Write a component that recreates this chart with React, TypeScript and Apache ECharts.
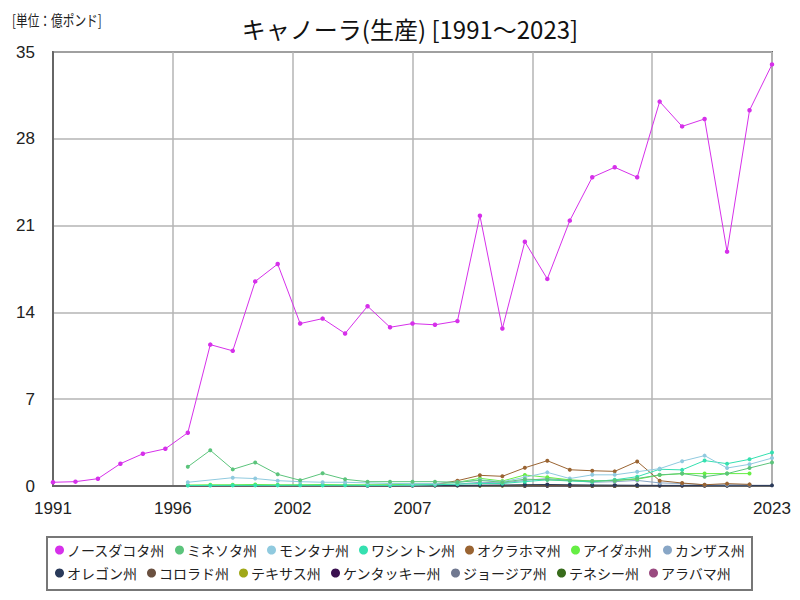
import React, { useEffect, useRef } from "react";
import * as echarts from "echarts";

const BASE_YEAR = 1991;
const LAST_YEAR = 2023;
const yTicks = [0, 7, 14, 21, 28, 35];

const stateNames = [
  "ノースダコタ州", "ミネソタ州", "モンタナ州", "ワシントン州", "オクラホマ州", "アイダホ州", "カンザス州",
  "オレゴン州", "コロラド州", "テキサス州", "ケンタッキー州", "ジョージア州", "テネシー州", "アラバマ州",
];
const stateColors = [
  "#d630ea", "#5cc47c", "#90cadf", "#35e0b0", "#9a6432", "#66ee44", "#88a6c6",
  "#2a3a5a", "#6a5040", "#a0a818", "#3a1050", "#707890", "#386c1c", "#9a4a80",
];

// start year of each series
const startYears = [1991, 1997, 1997, 1997, 2008, 1997, 2005, 2005, 2005, 2010, 2012, 2012, 2012, 2012];

const northDakota = [0.3, 0.35, 0.59, 1.8, 2.6, 3.0, 4.3, 11.4, 10.9, 16.5, 17.9, 13.1, 13.5, 12.3, 14.5, 12.8, 13.1, 13.0, 13.3, 21.8, 12.7, 19.7, 16.7, 21.4, 24.9, 25.7, 24.9, 31.0, 29.0, 29.6, 18.9, 30.3, 34.0];
const minnesota = [1.55, 2.88, 1.34, 1.9, 0.94, 0.46, 1.02, 0.54, 0.35, 0.35, 0.35, 0.35, 0.3, 0.45, 0.3, 0.55, 0.5, 0.45, 0.4, 0.45, 0.6, 0.9, 1.0, 0.75, 1.0, 1.45, 1.9];
const montana = [0.3, null, 0.67, 0.6, 0.43, 0.35, 0.3, 0.3, 0.25, 0.2, 0.2, 0.2, 0.3, 0.5, 0.35, 0.7, 1.1, 0.6, 0.9, 0.9, 1.15, 1.4, 2.0, 2.45, 1.45, 1.75, 2.25];
const washington = [0.04, 0.04, 0.05, 0.05, 0.05, 0.06, 0.05, 0.06, 0.05, 0.05, 0.08, 0.1, 0.15, 0.2, 0.2, 0.35, 0.5, 0.4, 0.35, 0.5, 0.75, 1.35, 1.3, 2.05, 1.8, 2.15, 2.7];
const oklahoma = [0.12, 0.43, 0.86, 0.78, 1.47, 2.04, 1.31, 1.23, 1.18, 1.98, 0.43, 0.24, 0.1, 0.19, 0.13];
const idaho = [0.08, 0.1, 0.1, 0.12, 0.1, 0.1, 0.12, 0.1, 0.1, 0.1, 0.15, 0.15, 0.3, 0.62, 0.4, 0.89, 0.7, 0.5, 0.4, 0.45, 0.55, 0.88, 1.0, 1.0, 1.0, 1.0];
const kansas = [0.05, 0.05, 0.05, 0.1, 0.15, 0.3, 0.25, 0.45, 0.6, 0.45, 0.3, 0.35, 0.45, 0.25, 0.2, 0.1, 0.1, 0.1];
const oregon = [0.02, 0.02, 0.03, 0.04, 0.05, 0.06, 0.08, 0.1, 0.12, 0.1, 0.08, 0.07, 0.06, 0.05, 0.05, 0.04, 0.04, 0.05, 0.05];
const colorado = [0.05, 0.06, 0.04, 0.05, 0.04, 0.05, 0.04, 0.06, 0.05, 0.04, 0.03, 0.03, 0.03, 0.02, 0.02, 0.02, 0.02, 0.02];
const texas = [0.02, 0.03, 0.06, 0.08, 0.05, 0.04, 0.03, 0.02];
const kentucky = [0.03, 0.04, 0.03, 0.03, 0.02, 0.02];
const georgia = [0.02, 0.03, 0.02, 0.02, 0.01, 0.01];
const tennessee = [0.02, 0.02, 0.02, 0.01, 0.01, 0.01];
const alabama = [0.01, 0.02, 0.01, 0.01, 0.01, 0.01];

const seriesValues = [northDakota, minnesota, montana, washington, oklahoma, idaho, kansas, oregon, colorado, texas, kentucky, georgia, tennessee, alabama];

const FONT_JP = "'Noto Sans CJK JP', 'Noto Sans', sans-serif";
const FONT_NUM = "'Liberation Sans', Arial, sans-serif";

export default function App() {
  const ref = useRef<HTMLDivElement>(null);
  useEffect(() => {
    if (!ref.current) return;
    const chart = echarts.init(ref.current, null, { renderer: "svg" });
    const span = LAST_YEAR - BASE_YEAR;
    const series = seriesValues.map((vals, si) => ({
      name: stateNames[si],
      type: "line",
      data: vals
        .map((v, i) => (v === null ? null : [startYears[si] + i - BASE_YEAR, v]))
        .filter((d) => d !== null),
      color: stateColors[si],
      symbol: "circle",
      symbolSize: si === 0 ? 4.5 : 4,
      showSymbol: true,
      lineStyle: { width: 1, color: stateColors[si] },
      itemStyle: { color: stateColors[si] },
      z: 20 - si,
    }));
    chart.setOption({
      animation: false,
      backgroundColor: "#ffffff",
      grid: {
        left: 53,
        right: 28,
        top: 52,
        bottom: 114,
        show: true,
        borderColor: "#666666",
        borderWidth: 2,
        backgroundColor: "transparent",
      },
      graphic: [
        {
          type: "text",
          x: 12,
          y: 19,
          scaleX: 0.78,
          style: {
            text: "[単位：億ポンド]",
            font: `15px ${FONT_JP}`,
            fill: "#222",
            textVerticalAlign: "middle",
          },
        },
        {
          type: "text",
          x: 410,
          y: 28,
          style: {
            text: "キャノーラ(生産) [1991～2023]",
            font: `24px ${FONT_JP}`,
            fill: "#111",
            textAlign: "center",
            textVerticalAlign: "middle",
          },
        },
        {
          type: "rect",
          shape: { x: 47, y: 537, width: 705, height: 53 },
          style: { fill: "none", stroke: "#777", lineWidth: 2 },
          silent: true,
        },
      ],
      legend: [
        {
          data: stateNames.slice(0, 7),
          left: 55,
          top: 543,
          padding: 0,
          icon: "circle",
          itemWidth: 9,
          itemHeight: 9,
          itemGap: 10,
          textStyle: { fontSize: 14, fontFamily: FONT_JP, color: "#222", padding: [0, 0, 0, -2] },
        },
        {
          data: stateNames.slice(7),
          left: 55,
          top: 566,
          padding: 0,
          icon: "circle",
          itemWidth: 9,
          itemHeight: 9,
          itemGap: 10,
          textStyle: { fontSize: 14, fontFamily: FONT_JP, color: "#222", padding: [0, 0, 0, -2] },
        },
      ],
      xAxis: {
        type: "value",
        min: 0,
        max: span,
        interval: span / 6,
        axisLine: { show: true, lineStyle: { color: "#666", width: 2 } },
        axisTick: { show: false },
        splitLine: { show: true, lineStyle: { color: "#b4b4b4", width: 1.5 } },
        axisLabel: {
          fontSize: 17,
          fontFamily: FONT_NUM,
          color: "#222",
          margin: 14,
          formatter: (v: number) => String(Math.round(v + BASE_YEAR)),
        },
      },
      yAxis: {
        type: "value",
        min: yTicks[0],
        max: yTicks[yTicks.length - 1],
        interval: yTicks[1] - yTicks[0],
        axisLine: { show: true, lineStyle: { color: "#666", width: 2 } },
        axisTick: { show: false },
        splitLine: { show: true, lineStyle: { color: "#b4b4b4", width: 1.5 } },
        axisLabel: {
          fontSize: 17,
          fontFamily: FONT_NUM,
          color: "#222",
          margin: 18,
        },
      },
      series,
    });
    return () => chart.dispose();
  }, []);
  return <div ref={ref} style={{ width: 800, height: 600, position: "absolute", left: 0, top: 0 }} />;
}
